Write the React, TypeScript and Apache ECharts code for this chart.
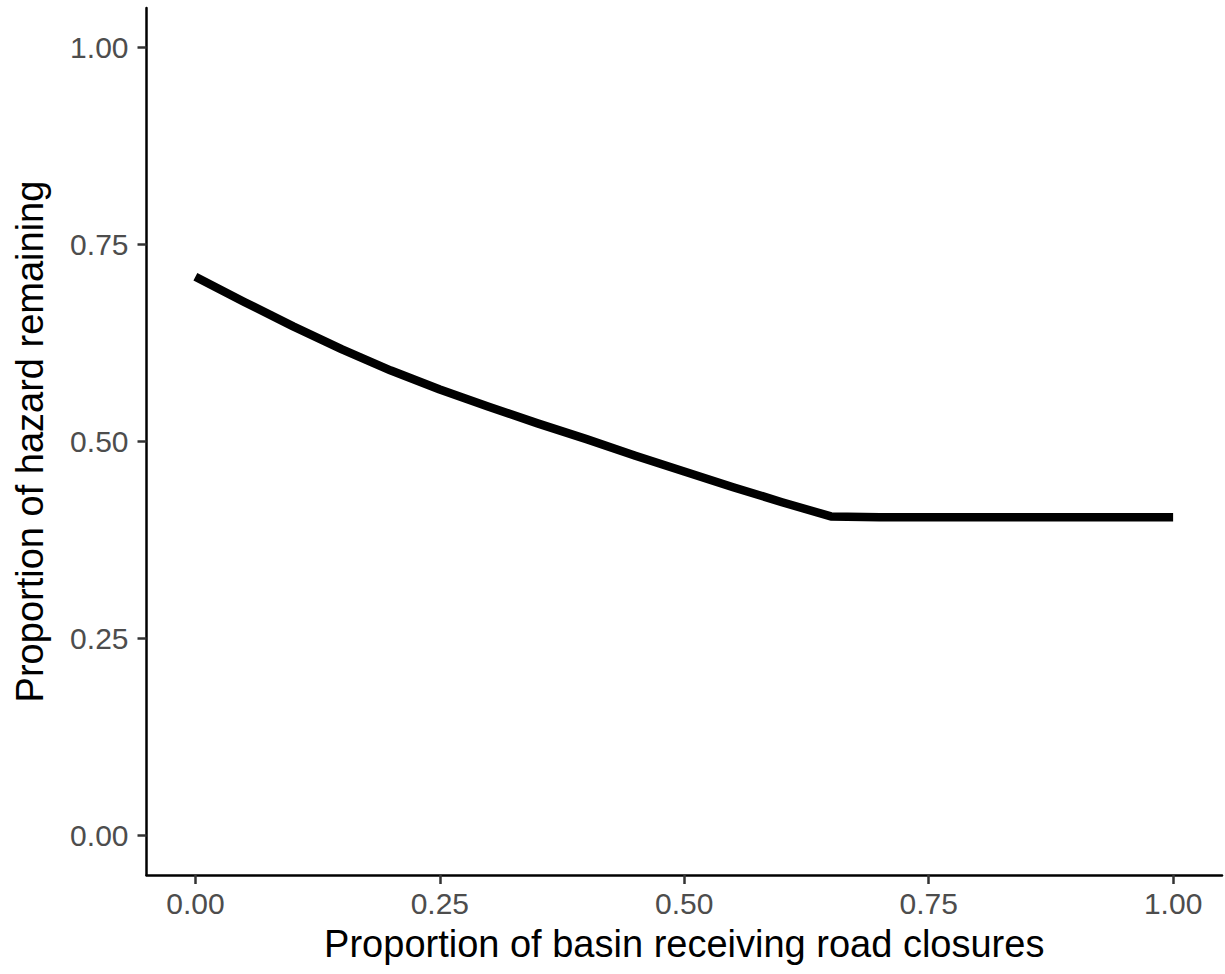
import React, { useEffect, useRef } from "react";
import * as echarts from "echarts";

const xValues = [0, 0.05, 0.1, 0.15, 0.2, 0.25, 0.3, 0.35, 0.4, 0.45, 0.5, 0.55, 0.6, 0.65, 0.7, 0.75, 0.8, 0.85, 0.9, 0.95, 1.0];
const yValues = [0.709, 0.677, 0.646, 0.617, 0.590, 0.566, 0.544, 0.523, 0.503, 0.482, 0.462, 0.442, 0.423, 0.405, 0.404, 0.404, 0.404, 0.404, 0.404, 0.404, 0.404];
const tickValues = [0, 0.25, 0.5, 0.75, 1.0];
const xTitle = "Proportion of basin receiving road closures";
const yTitle = "Proportion of hazard remaining";

export default function App() {
  const ref = useRef<HTMLDivElement>(null);
  useEffect(() => {
    if (!ref.current) return;
    const chart = echarts.init(ref.current, null, { renderer: "svg" });
    const font = "Liberation Sans, Arial, Helvetica, sans-serif";
    const axisCommon = (name: string, isX: boolean) => ({
      type: "value" as const,
      min: -0.05,
      max: 1.05,
      name,
      nameLocation: "middle" as const,
      nameGap: isX ? 50 : 98,
      nameTextStyle: { color: "#000000", fontSize: 38, fontFamily: font },
      axisLine: { show: true, onZero: false, lineStyle: { color: "#000000", width: 2.5 } },
      axisTick: {
        show: true,
        customValues: tickValues,
        length: 9,
        lineStyle: { color: "#333333", width: 2.5 },
      },
      axisLabel: {
        show: true,
        customValues: tickValues,
        formatter: (v: number) => v.toFixed(2),
        color: "#4D4D4D",
        fontSize: 30,
        fontFamily: font,
        margin: isX ? 13 : 18,
      },
      splitLine: { show: false },
    });
    chart.setOption({
      animation: false,
      backgroundColor: "#ffffff",
      grid: { left: 146.5, right: 3, top: 8, bottom: 99, containLabel: false },
      xAxis: axisCommon(xTitle, true),
      yAxis: axisCommon(yTitle, false),
      series: [
        {
          type: "line",
          data: xValues.map((x, i) => [x, yValues[i]]),
          showSymbol: false,
          symbol: "none",
          lineStyle: { color: "#000000", width: 8.5, cap: "butt", join: "round" },
          silent: true,
        },
      ],
    });
    return () => chart.dispose();
  }, []);
  return (
    <div
      ref={ref}
      style={{ position: "fixed", left: 0, top: 0, width: 1225, height: 974, background: "#fff" }}
    />
  );
}
